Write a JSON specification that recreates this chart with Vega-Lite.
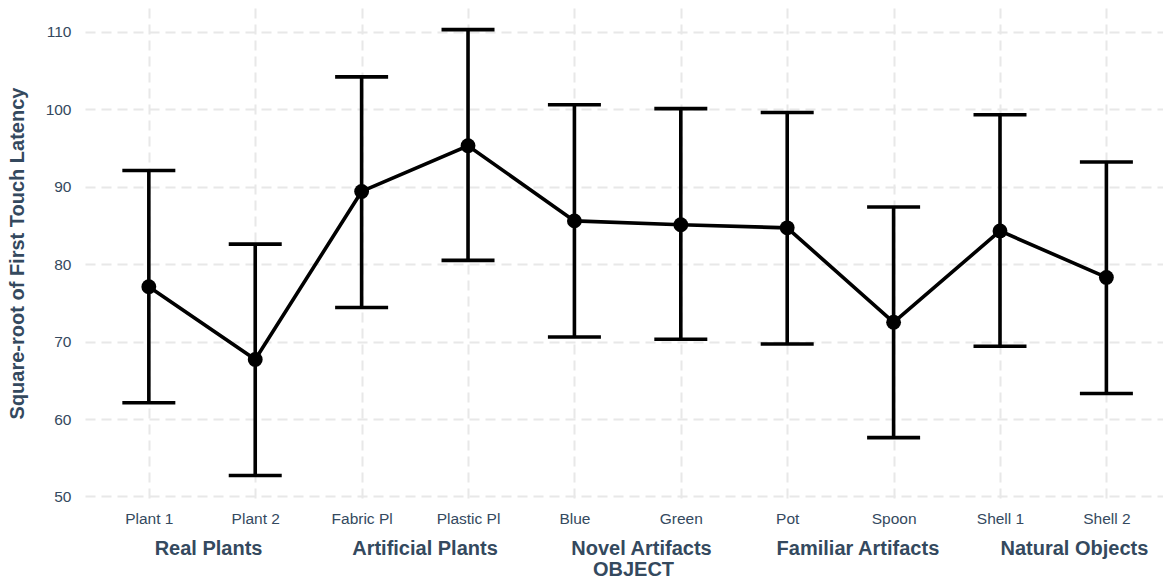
{
  "$schema": "https://vega.github.io/schema/vega-lite/v6.json",
  "width": 1078,
  "height": 490,
  "autosize": {"type": "none"},
  "padding": {"left": 85, "top": 8, "right": 0, "bottom": 84},
  "background": "white",
  "config": {
    "view": {"stroke": null},
    "font": "Liberation Sans",
    "axis": {
      "gridColor": "#e8e8e8",
      "gridDash": [10, 6],
      "gridWidth": 2,
      "ticks": false,
      "domain": false,
      "labelColor": "#34495e",
      "titleColor": "#34495e",
      "labelFont": "Liberation Sans",
      "titleFont": "Liberation Sans"
    }
  },
  "data": {
    "values": [
      {"object": "Plant 1", "group": "Real Plants", "mean": 77.1, "lo": 62.1, "hi": 92.1},
      {"object": "Plant 2", "group": "Real Plants", "mean": 67.7, "lo": 52.7, "hi": 82.6},
      {"object": "Fabric Pl", "group": "Artificial Plants", "mean": 89.4, "lo": 74.4, "hi": 104.2},
      {"object": "Plastic Pl", "group": "Artificial Plants", "mean": 95.3, "lo": 80.5, "hi": 110.3},
      {"object": "Blue", "group": "Novel Artifacts", "mean": 85.6, "lo": 70.6, "hi": 100.6},
      {"object": "Green", "group": "Novel Artifacts", "mean": 85.1, "lo": 70.3, "hi": 100.1},
      {"object": "Pot", "group": "Familiar Artifacts", "mean": 84.7, "lo": 69.7, "hi": 99.6},
      {"object": "Spoon", "group": "Familiar Artifacts", "mean": 72.5, "lo": 57.6, "hi": 87.4},
      {"object": "Shell 1", "group": "Natural Objects", "mean": 84.3, "lo": 69.4, "hi": 99.3},
      {"object": "Shell 2", "group": "Natural Objects", "mean": 78.3, "lo": 63.3, "hi": 93.2}
    ]
  },
  "layer": [
    {
      "encoding": {
        "x": {"field": "object", "type": "nominal", "sort": null,
          "scale": {"type": "point", "padding": 0.566, "align": 0.53},
          "axis": {"grid": true, "title": null, "labelAngle": 0, "labelFontSize": 15.5, "labelPadding": 13}}
      },
      "layer": [
        {
          "mark": {"type": "rule", "strokeWidth": 3.6, "color": "black"},
          "encoding": {
            "y": {"field": "lo", "type": "quantitative",
              "scale": {"domain": [49.8, 113.1], "nice": false, "zero": false},
              "axis": {"values": [50, 60, 70, 80, 90, 100, 110], "title": "Square-root of First Touch Latency",
                "titleFontSize": 20, "titleFontWeight": "bold", "labelFontSize": 15.5, "labelPadding": 14, "titlePadding": 18}},
            "y2": {"field": "hi"}
          }
        },
        {
          "mark": {"type": "tick", "size": 53, "thickness": 3.6, "color": "black", "opacity": 1},
          "encoding": {"y": {"field": "hi", "type": "quantitative"}}
        },
        {
          "mark": {"type": "tick", "size": 53, "thickness": 3.6, "color": "black", "opacity": 1},
          "encoding": {"y": {"field": "lo", "type": "quantitative"}}
        },
        {
          "mark": {"type": "line", "strokeWidth": 3.6, "color": "black"},
          "encoding": {"y": {"field": "mean", "type": "quantitative"}}
        },
        {
          "mark": {"type": "point", "filled": true, "size": 220, "opacity": 1, "color": "black"},
          "encoding": {"y": {"field": "mean", "type": "quantitative"}}
        }
      ]
    },
    {
      "mark": {"type": "point", "opacity": 0},
      "encoding": {
        "x": {"field": "group", "type": "nominal", "sort": null,
          "scale": {"type": "point", "padding": 0.49, "align": 0.58},
          "axis": {"orient": "bottom", "grid": false, "labelAngle": 0, "labelFontSize": 20, "labelFontWeight": "bold",
            "labelPadding": 40, "title": "OBJECT", "titleFontSize": 20, "titleFontWeight": "bold", "titlePadding": 1, "titleX": 548}},
        "y": {"field": "mean", "type": "quantitative"}
      }
    }
  ],
  "resolve": {"scale": {"x": "independent"}, "axis": {"x": "independent"}}
}
